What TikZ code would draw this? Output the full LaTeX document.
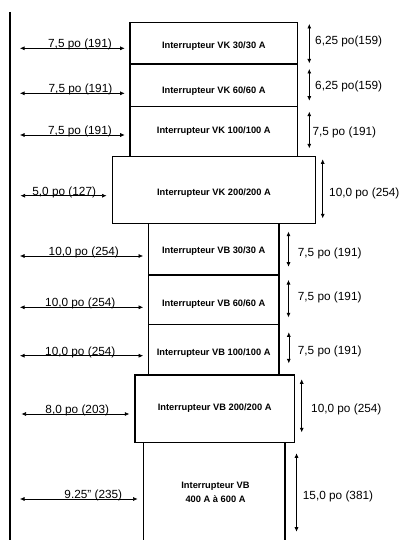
\documentclass[tikz,border=0pt]{standalone}
\usepackage{fontspec}
\setmainfont{Liberation Sans}
\usetikzlibrary{arrows.meta}
\begin{document}
\begin{tikzpicture}[x=1pt,y=-1pt,
  swbox/.style={draw=black,line width=1.5pt,inner sep=0pt},
  swlabel/.style={font=\fontsize{9.3}{13.3}\selectfont\bfseries,anchor=base,inner sep=0pt,align=center},
  dimlabel/.style={font=\fontsize{11.8}{14}\selectfont,inner sep=0pt},
  dimarrow/.style={line width=0.6pt,{Latex[length=4.5pt,width=4pt]}-{Latex[length=4.5pt,width=4pt]}},
  wall/.style={line width=2pt}]
\useasboundingbox (0,0) rectangle (400,540);
% wall
\draw[wall] (10,12) -- (10,545);
% boxes
\node[swbox,minimum width=141.7pt,minimum height=117.4pt] (b9) at (214.2,501) {};
\node[swbox,minimum width=159.3pt,minimum height=67.3pt] (b8) at (214.7,408.7) {};
\node[swbox,minimum width=130.7pt,minimum height=50.7pt] (b7) at (213.7,349.7) {};
\node[swbox,minimum width=130.7pt,minimum height=49.3pt] (b6) at (213.7,299.7) {};
\node[swbox,minimum width=130.7pt,minimum height=51.7pt] (b5) at (213.7,249.2) {};
\node[swbox,minimum width=167.7pt,minimum height=50pt] (b3) at (213.8,131.7) {};
\node[swbox,minimum width=167.7pt,minimum height=42.7pt] (b2) at (213.8,85.3) {};
\node[swbox,minimum width=167.7pt,minimum height=41.3pt] (b1) at (213.8,43.3) {};
\node[swbox,minimum width=203.4pt,minimum height=66.6pt] (b4) at (214,190) {};
% box labels
\node[swlabel] (t1) at (213.8,48.3) {Interrupteur VK 30/30 A};
\node[swlabel] (t2) at (213.8,93.3) {Interrupteur VK 60/60 A};
\node[swlabel] (t3) at (213.8,134) {Interrupteur VK 100/100 A};
\node[swlabel] (t4) at (214,195.6) {Interrupteur VK 200/200 A};
\node[swlabel] (t5) at (213.7,253.3) {Interrupteur VB 30/30 A};
\node[swlabel] (t6) at (213.7,306.6) {Interrupteur VB 60/60 A};
\node[swlabel] (t7) at (213.7,355) {Interrupteur VB 100/100 A};
\node[swlabel] (t8) at (214.7,410) {Interrupteur VB 200/200 A};
\node[swlabel,anchor=center] (t9) at (215.5,492.3) {Interrupteur VB\\400 A à 600 A};
% left dimension arrows
\coordinate (l1) at (20,48.3);
\coordinate (l2) at (20,93.3);
\coordinate (l3) at (20,135);
\coordinate (l4) at (20.5,195.7);
\coordinate (l5) at (20,256);
\coordinate (l6) at (20,307.3);
\coordinate (l7) at (20,355.7);
\coordinate (l8) at (21.5,414);
\coordinate (l9) at (20,499);
\draw[dimarrow] (l1) -- ([xshift=-4.5pt]b1.west |- l1);
\draw[dimarrow] (l2) -- ([xshift=-4.5pt]b2.west |- l2);
\draw[dimarrow] (l3) -- ([xshift=-4.5pt]b3.west |- l3);
\draw[dimarrow] (l4) -- ([xshift=-5pt]b4.west |- l4);
\draw[dimarrow] (l5) -- ([xshift=-4.5pt]b5.west |- l5);
\draw[dimarrow] (l6) -- ([xshift=-4.5pt]b6.west |- l6);
\draw[dimarrow] (l7) -- ([xshift=-4.5pt]b7.west |- l7);
\draw[dimarrow] (l8) -- ([xshift=-5pt]b8.west |- l8);
\draw[dimarrow] (l9) -- ([xshift=-5pt]b9.west |- l9);
\node[dimlabel,anchor=base] (d1) at (80,47.8) {7,5 po (191)};
\node[dimlabel,anchor=base] (d2) at (80.5,92.8) {7,5 po (191)};
\node[dimlabel,anchor=base] (d3) at (80,134.5) {7,5 po (191)};
\node[dimlabel,anchor=base] (d4) at (64.2,195.2) {5,0 po (127)};
\node[dimlabel,anchor=base] (d5) at (83.8,255.5) {10,0 po (254)};
\node[dimlabel,anchor=base] (d6) at (80.3,306.8) {10,0 po (254)};
\node[dimlabel,anchor=base] (d7) at (80.3,355.2) {10,0 po (254)};
\node[dimlabel,anchor=base] (d8) at (77.3,413.5) {8,0 po (203)};
\node[dimlabel,anchor=base] (d9) at (93.3,498.5) {9.25" (235)};
% right dimension arrows
\coordinate (r1a) at (309.3,24);    \coordinate (r1b) at (309.3,63.3);
\coordinate (r2a) at (309.3,69);    \coordinate (r2b) at (309.3,100.7);
\coordinate (r3a) at (309.3,111.7); \coordinate (r3b) at (309.3,148.3);
\coordinate (r4a) at (322.7,159.3); \coordinate (r4b) at (322.7,218.3);
\coordinate (r5a) at (288.5,231.7); \coordinate (r5b) at (288.5,266.7);
\coordinate (r6a) at (288.5,280);   \coordinate (r6b) at (288.5,317.3);
\coordinate (r7a) at (288.8,332.3); \coordinate (r7b) at (288.8,363.3);
\coordinate (r8a) at (301.7,379.3); \coordinate (r8b) at (301.7,432.3);
\coordinate (r9a) at (296.5,453.3); \coordinate (r9b) at (296.5,531.7);
\draw[dimarrow] (r1a) -- (r1b);
\draw[dimarrow] (r2a) -- (r2b);
\draw[dimarrow] (r3a) -- (r3b);
\draw[dimarrow] (r4a) -- (r4b);
\draw[dimarrow] (r5a) -- (r5b);
\draw[dimarrow] (r6a) -- (r6b);
\draw[dimarrow] (r7a) -- (r7b);
\draw[dimarrow] (r8a) -- (r8b);
\draw[dimarrow] (r9a) -- (r9b);
\node[dimlabel,anchor=base west] (e1) at (315,44.3) {6,25 po(159)};
\node[dimlabel,anchor=base west] (e2) at (315,89.3) {6,25 po(159)};
\node[dimlabel,anchor=base west] (e3) at (312.3,136) {7,5 po (191)};
\node[dimlabel,anchor=base west] (e4) at (329,196) {10,0 po (254)};
\node[dimlabel,anchor=base west] (e5) at (297.7,256) {7,5 po (191)};
\node[dimlabel,anchor=base west] (e6) at (297.7,300.3) {7,5 po (191)};
\node[dimlabel,anchor=base west] (e7) at (297.7,354.3) {7,5 po (191)};
\node[dimlabel,anchor=base west] (e8) at (311,412.6) {10,0 po (254)};
\node[dimlabel,anchor=base west] (e9) at (302.7,499.3) {15,0 po (381)};
\end{tikzpicture}
\end{document}
